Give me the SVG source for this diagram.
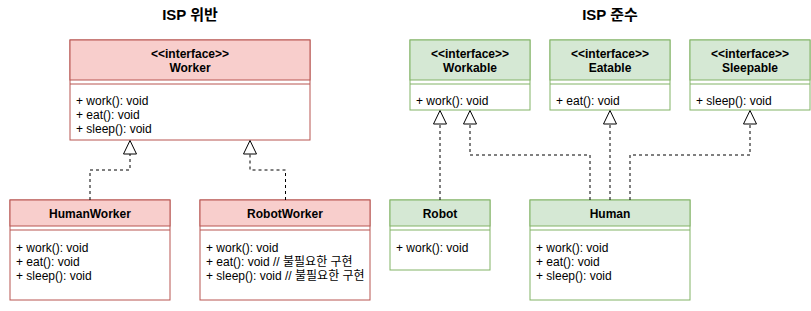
<svg xmlns="http://www.w3.org/2000/svg" width="811" height="311" viewBox="0 0 811 311">
<style>
text{font-family:"Liberation Sans","Noto Sans CJK KR",Arial,sans-serif;font-size:12px;fill:#000}
.t{font-size:15px;font-weight:bold;text-anchor:middle}
.h{font-weight:bold;text-anchor:middle}
.body{fill:#fff}
.r .body,.r .hd,.r line{stroke:#b85450;stroke-width:1}
.r .hd{fill:#f8cecc}
.g .body,.g .hd,.g line{stroke:#82b366;stroke-width:1}
.g .hd{fill:#d5e8d4}
.c path{fill:none;stroke:#000;stroke-width:1;stroke-dasharray:3 3}
.c path.tri{fill:#fff;stroke-dasharray:none}
</style>
<rect width="811" height="311" fill="#fff"/>
<text class="t" x="190" y="20">ISP 위반</text>
<text class="t" x="610" y="20">ISP 준수</text>

<g id="Worker" class="r">
<rect class="body" x="70" y="40" width="240" height="100"/>
<rect class="hd" x="70" y="40" width="240" height="40"/>
<line x1="70" y1="84" x2="310" y2="84"/>
<text class="h" x="190" y="57.5">&lt;&lt;interface&gt;&gt;</text>
<text class="h" x="190" y="71.5">Worker</text>
<text x="76" y="105">+ work(): void</text>
<text x="76" y="119">+ eat(): void</text>
<text x="76" y="133">+ sleep(): void</text>
</g>

<g id="HumanWorker" class="r">
<rect class="body" x="10" y="200" width="160" height="100"/>
<rect class="hd" x="10" y="200" width="160" height="26"/>
<line x1="10" y1="230" x2="170" y2="230"/>
<text class="h" x="90" y="217.5">HumanWorker</text>
<text x="16" y="252">+ work(): void</text>
<text x="16" y="266">+ eat(): void</text>
<text x="16" y="280">+ sleep(): void</text>
</g>

<g id="RobotWorker" class="r">
<rect class="body" x="200" y="200" width="170" height="100"/>
<rect class="hd" x="200" y="200" width="170" height="26"/>
<line x1="200" y1="230" x2="370" y2="230"/>
<text class="h" x="285" y="217.5">RobotWorker</text>
<text x="206" y="252">+ work(): void</text>
<text x="206" y="266">+ eat(): void // 불필요한 구현</text>
<text x="206" y="280">+ sleep(): void // 불필요한 구현</text>
</g>

<g id="Workable" class="g">
<rect class="body" x="410" y="40" width="120" height="70"/>
<rect class="hd" x="410" y="40" width="120" height="40"/>
<line x1="410" y1="84" x2="530" y2="84"/>
<text class="h" x="470" y="57.5">&lt;&lt;interface&gt;&gt;</text>
<text class="h" x="470" y="71.5">Workable</text>
<text x="416" y="105">+ work(): void</text>
</g>

<g id="Eatable" class="g">
<rect class="body" x="550" y="40" width="120" height="70"/>
<rect class="hd" x="550" y="40" width="120" height="40"/>
<line x1="550" y1="84" x2="670" y2="84"/>
<text class="h" x="610" y="57.5">&lt;&lt;interface&gt;&gt;</text>
<text class="h" x="610" y="71.5">Eatable</text>
<text x="556" y="105">+ eat(): void</text>
</g>

<g id="Sleepable" class="g">
<rect class="body" x="690" y="40" width="120" height="70"/>
<rect class="hd" x="690" y="40" width="120" height="40"/>
<line x1="690" y1="84" x2="810" y2="84"/>
<text class="h" x="750" y="57.5">&lt;&lt;interface&gt;&gt;</text>
<text class="h" x="750" y="71.5">Sleepable</text>
<text x="696" y="105">+ sleep(): void</text>
</g>

<g id="Robot" class="g">
<rect class="body" x="390" y="200" width="100" height="70"/>
<rect class="hd" x="390" y="200" width="100" height="26"/>
<line x1="390" y1="230" x2="490" y2="230"/>
<text class="h" x="440" y="217.5">Robot</text>
<text x="396" y="252">+ work(): void</text>
</g>

<g id="Human" class="g">
<rect class="body" x="530" y="200" width="160" height="100"/>
<rect class="hd" x="530" y="200" width="160" height="26"/>
<line x1="530" y1="230" x2="690" y2="230"/>
<text class="h" x="610" y="217.5">Human</text>
<text x="536" y="252">+ work(): void</text>
<text x="536" y="266">+ eat(): void</text>
<text x="536" y="280">+ sleep(): void</text>
</g>

<g id="connectors" class="c">
<path d="M90,200 V170 H130 V154"/>
<path class="tri" d="M130,140.5 L123.5,154 L136.5,154 Z"/>
<path d="M285.5,200 V170 H250 V154"/>
<path class="tri" d="M250,140.5 L243.5,154 L256.5,154 Z"/>
<path d="M440,200 V124"/>
<path class="tri" d="M440,110.5 L433.5,124 L446.5,124 Z"/>
<path d="M590,200 V155 H470 V124"/>
<path class="tri" d="M470,110.5 L463.5,124 L476.5,124 Z"/>
<path d="M610,200 V124"/>
<path class="tri" d="M610,110.5 L603.5,124 L616.5,124 Z"/>
<path d="M630,200 V155 H750 V124"/>
<path class="tri" d="M750,110.5 L743.5,124 L756.5,124 Z"/>
</g>
</svg>
